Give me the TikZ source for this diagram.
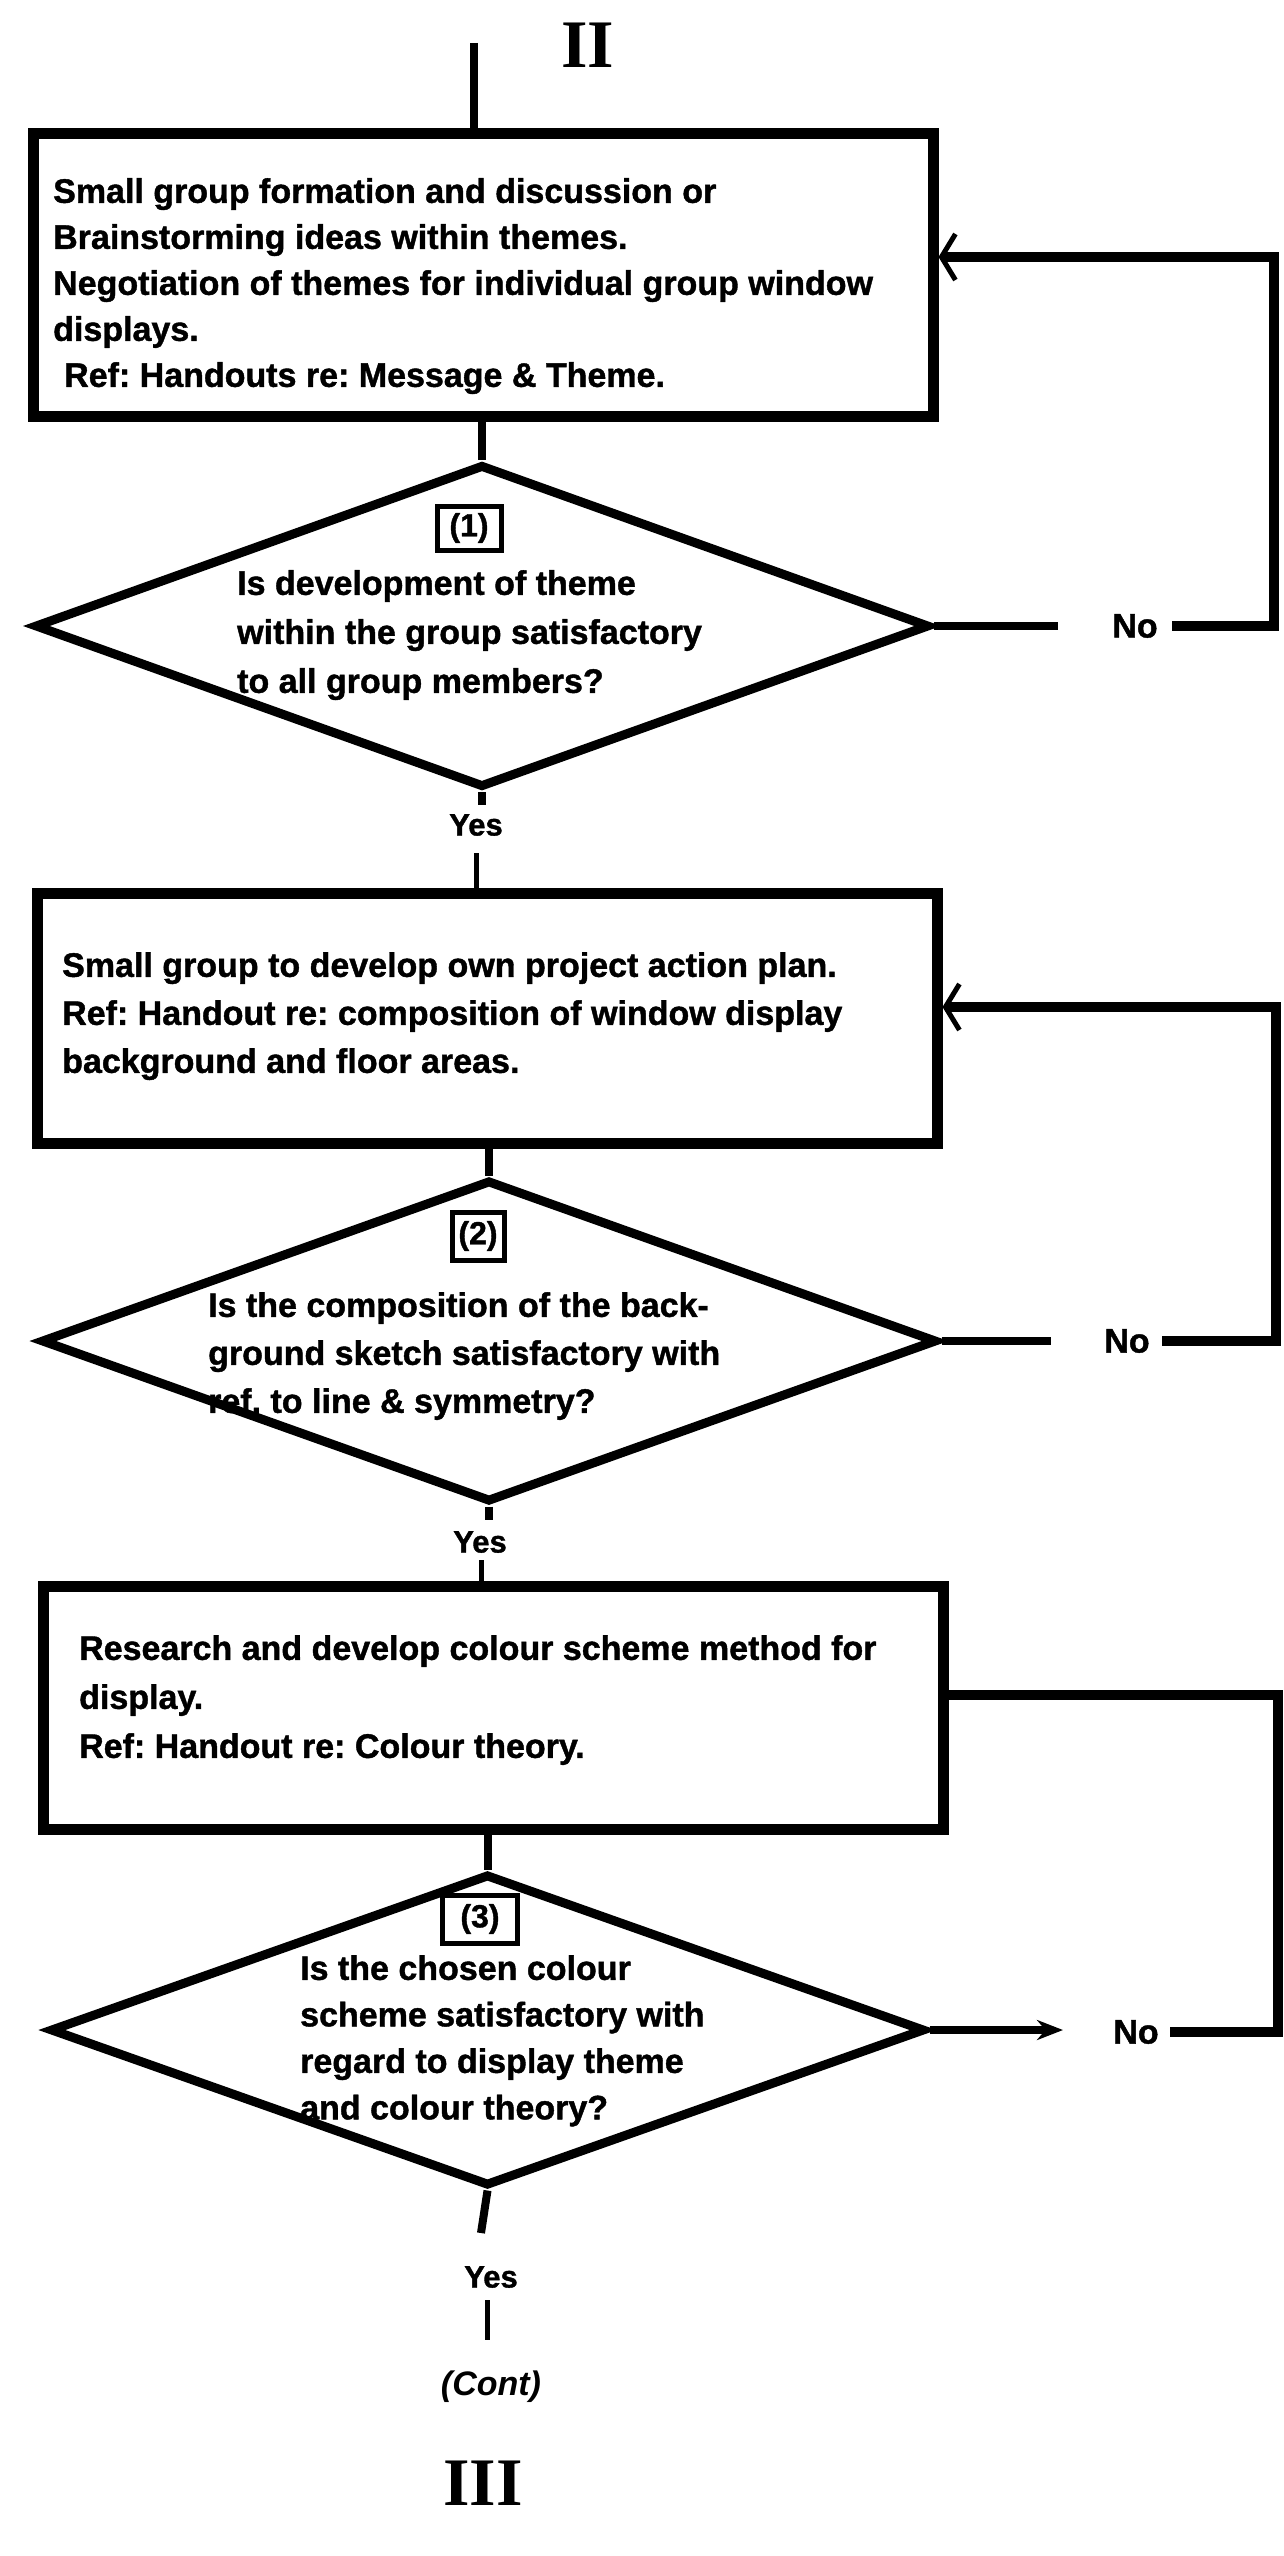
\documentclass[tikz,border=0pt]{standalone}
\usepackage{fontspec}
\setmainfont{Liberation Sans}[BoldFeatures={FakeBold=1.2}]
\newfontfamily\numfont{Liberation Serif}
\usetikzlibrary{arrows.meta,shapes.geometric}
\frenchspacing
\begin{document}
\begin{tikzpicture}[x=1pt,y=-1pt,
  box/.style={draw, line width=11pt, minimum width=900pt, inner sep=0pt},
  dec/.style={draw, diamond, line width=9pt, inner sep=0pt},
  txt/.style={anchor=north west, align=left, inner sep=0pt, font=\fontsize{34}{48}\selectfont\bfseries},
  lbl/.style={inner sep=0pt, font=\fontsize{34}{40}\selectfont\bfseries},
  yeslbl/.style={inner sep=0pt, font=\fontsize{31}{36}\selectfont\bfseries},
  conn/.style={line width=8pt},
  thinconn/.style={line width=5pt},
  loopline/.style={line width=10pt},
  intoarrow/.style={-{Straight Barb[length=14pt,width=46pt,line width=5pt]}},
  outarrow/.style={-{Stealth[length=26pt,width=20pt]}},
  numbox/.style={draw, line width=5pt, inner sep=0pt, font=\fontsize{32}{34}\selectfont\bfseries},
  romanlbl/.style={inner sep=0pt, font=\fontsize{68}{70}\selectfont\numfont\bfseries}
]
\useasboundingbox (0,0) rectangle (1283,2556);
\fill[white] (0,0) rectangle (1283,2556);

% top
\node[romanlbl] (topnum) at (588,45) {II};
\coordinate (start) at (474,43);

% box 1
\node[box, minimum height=283pt] (b1) at (483,274.5) {};
\node[txt, font=\fontsize{34}{46}\selectfont\bfseries] (t1) at (53,178) {Small group formation and discussion or\\Brainstorming ideas within themes.\\Negotiation of themes for individual group window\\displays.\\\hspace*{11pt}Ref: Handouts re: Message \& Theme.};
\draw[conn] (start) -- (start |- b1.north);

% decision 1
\node[dec, minimum width=895pt, minimum height=323pt] (d1) at (482,626) {};
\node[numbox, minimum width=64pt, minimum height=44pt] (n1) at (469,528) {(1)};
\node[txt, font=\fontsize{34}{49}\selectfont\bfseries] (q1) at (237,570) {Is development of theme\\within the group satisfactory\\to all group members?};
\draw[conn] (d1.north |- b1.south) -- (d1.north);

\node[lbl] (no1) at (1135,626) {No};
\coordinate (g1) at (1058,626);
\coordinate (h1) at (1172,626);
\coordinate (r1) at (1274,257);
\draw[conn] (d1.east) -- (g1);
\draw[loopline, intoarrow] (h1) -| (r1) -- (r1 -| b1.east);

\node[yeslbl] (yes1) at (476,825) {Yes};
\coordinate (y1a) at (482,805);
\coordinate (y1b) at (476,853);
\draw[conn] (d1.south) -- (y1a);

% box 2
\node[box, minimum height=250pt] (b2) at (487,1018) {};
\node[txt] (t2) at (62,952) {Small group to develop own project action plan.\\Ref: Handout re: composition of window display\\background and floor areas.};
\draw[thinconn] (y1b) -- (y1b |- b2.north);

% decision 2
\node[dec, minimum width=896pt, minimum height=322pt] (d2) at (489,1341) {};
\node[numbox, minimum width=52pt, minimum height=48pt] (n2) at (478,1236) {(2)};
\node[txt] (q2) at (208,1292) {Is the composition of the back-\\ground sketch satisfactory with\\ref. to line \& symmetry?};
\draw[conn] (d2.north |- b2.south) -- (d2.north);

\node[lbl] (no2) at (1127,1341) {No};
\coordinate (g2) at (1051,1341);
\coordinate (h2) at (1162,1341);
\coordinate (r2) at (1276,1007);
\draw[conn] (d2.east) -- (g2);
\draw[loopline, intoarrow] (h2) -| (r2) -- (r2 -| b2.east);

\node[yeslbl] (yes2) at (480,1542) {Yes};
\coordinate (y2a) at (489,1520);
\coordinate (y2b) at (481,1560);
\draw[conn] (d2.south) -- (y2a);

% box 3
\node[box, minimum height=243pt] (b3) at (493,1707.5) {};
\node[txt, font=\fontsize{34}{49}\selectfont\bfseries] (t3) at (79,1635) {Research and develop colour scheme method for\\display.\\Ref: Handout re: Colour theory.};
\draw[thinconn] (y2b) -- (y2b |- b3.north);

% decision 3
\node[dec, minimum width=875pt, minimum height=312pt] (d3) at (487.5,2030) {};
\node[numbox, minimum width=75pt, minimum height=48pt] (n3) at (480,1919) {(3)};
\node[txt, font=\fontsize{34}{46.5}\selectfont\bfseries] (q3) at (300,1955) {Is the chosen colour\\scheme satisfactory with\\regard to display theme\\and colour theory?};
\draw[conn] (d3.north |- b3.south) -- (d3.north);

\node[lbl] (no3) at (1136,2032) {No};
\coordinate (g3) at (1063,2030);
\coordinate (h3) at (1170,2032);
\coordinate (r3) at (1278,1695);
\draw[conn, outarrow] (d3.east) -- (g3);
\draw[loopline] (h3) -| (r3) -- (r3 -| b3.east);

\node[yeslbl] (yes3) at (491,2277) {Yes};
\coordinate (y3a) at (481,2233);
\coordinate (y3b) at (487,2300);
\coordinate (y3c) at (487,2340);
\draw[conn] (d3.south) -- (y3a);
\draw[thinconn] (y3b) -- (y3c);

\node[lbl, font=\fontsize{34}{40}\selectfont\bfseries\itshape] (cont) at (491,2387) {(Cont)};
\node[romanlbl] (botnum) at (483,2483) {III};
\end{tikzpicture}
\end{document}
